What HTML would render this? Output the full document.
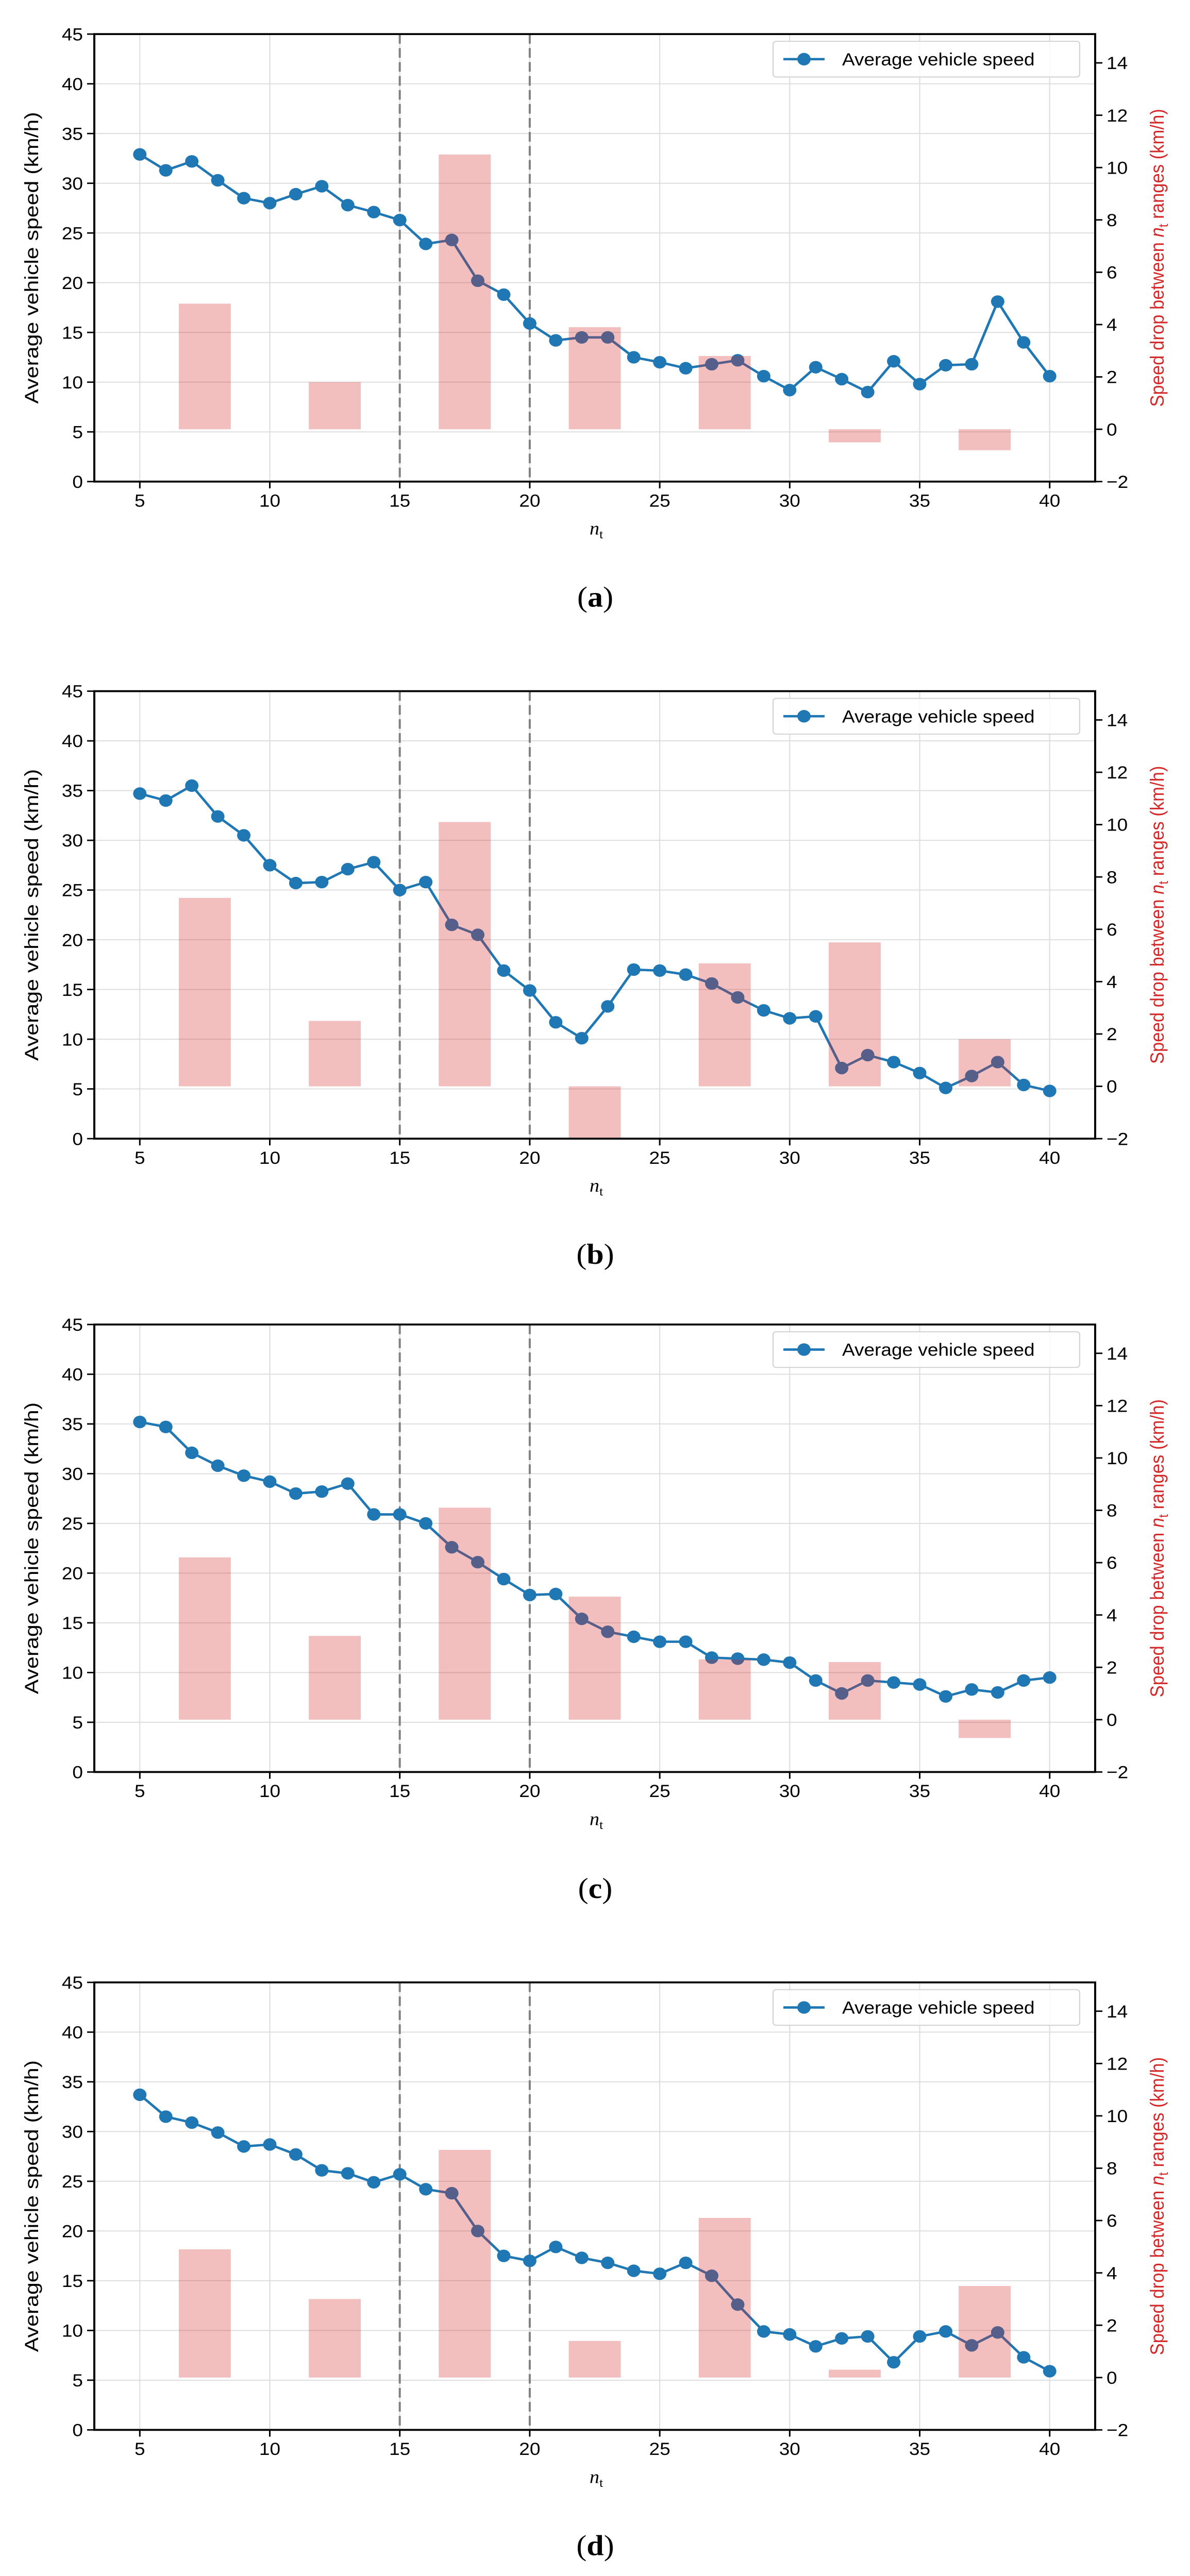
<!DOCTYPE html>
<html><head><meta charset="utf-8">
<style>
html,body{margin:0;padding:0;background:#fff;overflow:hidden;}
svg{display:block;position:fixed;left:0;top:0;width:100vw;height:100vh;font-family:"Liberation Sans",sans-serif;}
</style></head>
<body>
<svg id="fig" viewBox="0 0 2309 5342" preserveAspectRatio="none" xmlns="http://www.w3.org/2000/svg"></svg>
<script>
const nt = [5,6,7,8,9,10,11,12,13,14,15,16,17,18,19,20,21,22,23,24,25,26,27,28,29,30,31,32,33,34,35,36,37,38,39,40];
const barCenters = [7.5,12.5,17.5,22.5,27.5,32.5,37.5];
const speedA = [32.9,31.3,32.2,30.3,28.5,28.0,28.9,29.7,27.8,27.1,26.3,23.9,24.3,20.2,18.8,15.9,14.2,14.5,14.5,12.5,12.0,11.4,11.8,12.2,10.6,9.2,11.5,10.3,9.0,12.1,9.8,11.7,11.8,18.1,14.0,10.6];
const dropA = [4.8,1.8,10.5,3.9,2.8,-0.5,-0.8];
const speedB = [34.7,34.0,35.5,32.4,30.5,27.5,25.7,25.8,27.1,27.8,25.0,25.8,21.5,20.5,16.9,14.9,11.7,10.1,13.3,17.0,16.9,16.5,15.6,14.2,12.9,12.1,12.3,7.1,8.4,7.7,6.6,5.1,6.3,7.7,5.4,4.8];
const dropB = [7.2,2.5,10.1,-2.0,4.7,5.5,1.8];
const speedC = [35.2,34.7,32.1,30.8,29.8,29.2,28.0,28.2,29.0,25.9,25.9,25.0,22.6,21.1,19.4,17.8,17.9,15.4,14.1,13.6,13.1,13.1,11.5,11.4,11.3,11.0,9.2,7.9,9.2,9.0,8.8,7.6,8.3,8.0,9.2,9.5];
const dropC = [6.2,3.2,8.1,4.7,2.3,2.2,-0.7];
const speedD = [33.7,31.5,30.9,29.9,28.5,28.7,27.7,26.1,25.8,24.9,25.7,24.2,23.8,20.0,17.5,17.0,18.4,17.3,16.8,16.0,15.7,16.8,15.5,12.6,9.9,9.6,8.4,9.2,9.4,6.8,9.4,9.9,8.5,9.8,7.3,5.9];
const dropD = [4.9,3.0,8.7,1.4,6.1,0.3,3.5];
const xTicks = [5,10,15,20,25,30,35,40];
const yTicks = [0,5,10,15,20,25,30,35,40,45];
const y2Ticks = [-2,0,2,4,6,8,10,12,14];
const vlines = [15,20];
const captions = ["(a)","(b)","(c)","(d)"];

const NS = "http://www.w3.org/2000/svg";
const svg = document.getElementById('fig');
function mk(tag, attrs, parent){
  const e = document.createElementNS(NS, tag);
  for (const k in attrs) e.setAttribute(k, attrs[k]);
  (parent||svg).appendChild(e);
  return e;
}
const L = 183, R = 2125, H = 928;
const xmin = 3.25, xmax = 41.75, ymin = 0, ymax = 45, y2min = -2, y2max = 15.1;
const tops = [70.7, 1433.3, 2746.7, 4111];
const captionY = [1258, 2621, 3936, 5299];

function drawChart(idx, speed, drop){
  const T = tops[idx], B = T + H;
  const X = v => L + (v - xmin) / (xmax - xmin) * (R - L);
  const Y = v => B - (v - ymin) / (ymax - ymin) * H;
  const Y2 = v => B - (v - y2min) / (y2max - y2min) * H;
  const g = mk('g', {});
  
  
  xTicks.forEach(t => {
    const l = mk('line', {x1:X(t), x2:X(t), y1:T, y2:B, stroke:'#dcdcdc', 'stroke-width':2}, g);
    
    
  });
  yTicks.forEach(t => {
    const l = mk('line', {x1:L, x2:R, y1:Y(t), y2:Y(t), stroke:'#dcdcdc', 'stroke-width':2}, g);
    
    
  });
  vlines.forEach(v => {
    const l = mk('line', {x1:X(v), x2:X(v), y1:T, y2:B, stroke:'#808080', 'stroke-width':4, 'stroke-dasharray':'20 9'}, g);
    
    
  });
  const pts = speed.map((v,i) => X(nt[i]) + ',' + Y(v)).join(' ');
  const pl = mk('polyline', {points:pts, fill:'none', stroke:'#1f77b4', 'stroke-width':5}, g);
  
  
  speed.forEach((v,i) => {
    const c = mk('circle', {cx:X(nt[i]), cy:Y(v), r:13, fill:'#1f77b4'}, g);
    
    
  });
  drop.forEach((v,i) => {
    const x0 = X(barCenters[i] - 1), x1 = X(barCenters[i] + 1);
    const ya = Y2(Math.max(v,0)), yb = Y2(Math.min(v,0));
    const r = mk('rect', {x:x0, y:ya, width:x1-x0, height:Math.max(yb-ya,0.5), fill:'#d62728', 'fill-opacity':0.3}, g);
    
    
  });
  const fr = mk('rect', {x:L, y:T, width:R-L, height:H, fill:'none', stroke:'#000', 'stroke-width':4}, g);
  
  
  xTicks.forEach(t => {
    mk('line', {x1:X(t), x2:X(t), y1:B, y2:B+14, stroke:'#000', 'stroke-width':3}, g);
    const tx = mk('text', {x:X(t), y:B+52, 'font-size':37, 'text-anchor':'middle', fill:'#000'}, g);
    tx.textContent = t;
    
    
  });
  yTicks.forEach(t => {
    mk('line', {x1:L-14, x2:L, y1:Y(t), y2:Y(t), stroke:'#000', 'stroke-width':3}, g);
    const tx = mk('text', {x:L-22, y:Y(t)+13, 'font-size':37, 'text-anchor':'end', fill:'#000'}, g);
    tx.textContent = t;
    
    
  });
  y2Ticks.forEach(t => {
    mk('line', {x1:R, x2:R+14, y1:Y2(t), y2:Y2(t), stroke:'#000', 'stroke-width':3}, g);
    const tx = mk('text', {x:R+22, y:Y2(t)+13, 'font-size':37, 'text-anchor':'start', fill:'#000'}, g);
    tx.textContent = t < 0 ? '\u2212' + Math.abs(t) : t;
    
    
  });
  const cy = (T + B) / 2;
  const yl = mk('text', {x:0, y:0, 'font-size':37, 'text-anchor':'middle', fill:'#000', transform:`translate(74,${cy}) rotate(-90)`, textLength:605, lengthAdjust:'spacingAndGlyphs'}, g);
  yl.textContent = 'Average vehicle speed (km/h)';
  
  
  const y2l = mk('text', {x:0, y:0, 'font-size':37, 'text-anchor':'middle', fill:'#d62728', transform:`translate(2258,${cy}) rotate(-90)`}, g);
  y2l.innerHTML = 'Speed drop between <tspan font-style="italic">n</tspan><tspan font-size="26" dy="8">t</tspan><tspan dy="-8"> ranges (km/h)</tspan>';
  
  
  const xl = mk('text', {x:(L+R)/2 - 10, y:B+110, 'font-size':38, 'font-style':'italic', fill:'#000', 'font-family':'Liberation Serif, serif'}, g);
  xl.innerHTML = 'n<tspan font-size="26" dy="8" font-style="normal">t</tspan>';
  
  
  const lg = mk('g', {}, g);
  
  
  mk('rect', {x:1500, y:T+15, width:595, height:74, rx:6, fill:'#fff', 'fill-opacity':0.85, stroke:'#d0d0d0', 'stroke-width':2}, lg);
  mk('line', {x1:1520, x2:1600, y1:T+52, y2:T+52, stroke:'#1f77b4', 'stroke-width':5}, lg);
  mk('circle', {cx:1560, cy:T+52, r:13, fill:'#1f77b4'}, lg);
  const lt = mk('text', {x:1634, y:T+65, 'font-size':37, fill:'#000'}, lg);
  lt.textContent = 'Average vehicle speed';
  
  
  const cap = mk('text', {x:1155, y:captionY[idx], 'font-size':60, 'text-anchor':'middle', fill:'#000', 'font-family':'Liberation Serif, serif'}, g);
  const letter = captions[idx].slice(1,2);
  cap.innerHTML = '(<tspan font-weight="bold">' + letter + '</tspan>)';
  
  
}
drawChart(0, speedA, dropA);
drawChart(1, speedB, dropB);
drawChart(2, speedC, dropC);
drawChart(3, speedD, dropD);
</script>
</body></html>
